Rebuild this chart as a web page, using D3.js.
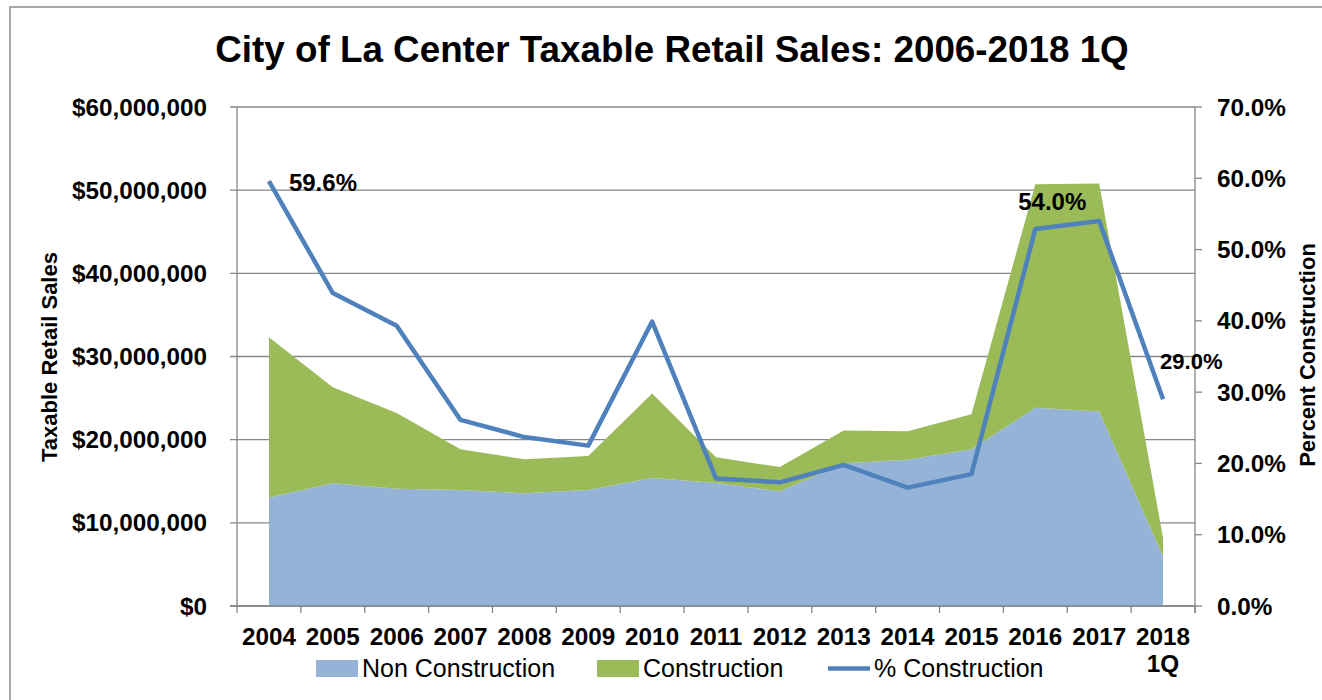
<!DOCTYPE html>
<html>
<head>
<meta charset="utf-8">
<script src="https://cdn.jsdelivr.net/npm/d3@7"></script>
<style>
  html, body { margin: 0; padding: 0; background: #fff; }
  svg { display: block; font-family: "Liberation Sans", Arial, sans-serif; }
</style>
</head>
<body>
<svg id="chart" width="1322" height="700"></svg>
<script>
// ---- data ----
const categories = ["2004","2005","2006","2007","2008","2009","2010","2011","2012","2013","2014","2015","2016","2017","2018\n1Q"];
const nonConstruction = [13.05e6, 14.75e6, 14.1e6, 13.95e6, 13.55e6, 13.95e6, 15.4e6, 14.8e6, 13.8e6, 17.15e6, 17.6e6, 18.85e6, 23.85e6, 23.4e6, 5.95e6];
const construction   = [19.25e6, 11.55e6, 9.1e6, 4.9e6, 4.1e6, 4.1e6, 10.15e6, 3.1e6, 2.9e6, 3.95e6, 3.4e6, 4.2e6, 26.85e6, 27.4e6, 2.2e6];
const pctConstruction = [0.596, 0.439, 0.393, 0.261, 0.237, 0.225, 0.399, 0.179, 0.1735, 0.198, 0.166, 0.185, 0.529, 0.540, 0.290];
const leftTicks = [0, 10e6, 20e6, 30e6, 40e6, 50e6, 60e6];
const rightTicks = [0, 0.1, 0.2, 0.3, 0.4, 0.5, 0.6, 0.7];
const dataLabels = [{i: 0, text: "59.6%"}, {i: 13, text: "54.0%"}, {i: 14, text: "29.0%"}];
const seriesNames = ["Non Construction", "Construction", "% Construction"];

// ---- layout ----
const svg = d3.select("#chart");
const L = 237, R = 1195, T = 107, B = 606;
const colNon = "#95B3D7", colCon = "#9BBB59", colLine = "#4F81BD", grid = "#868686";

const xBand = d3.scaleBand().domain(categories).range([L, R]);
const x = d3.scalePoint().domain(categories).range([L, R]).padding(0.5);
const yL = d3.scaleLinear().domain([0, 60e6]).range([B, T]);
const yR = d3.scaleLinear().domain([0, 0.7]).range([B, T]);

// outer border
svg.append("rect").attr("x", 10).attr("y", 7).attr("width", 1330).attr("height", 720)
  .attr("fill", "none").attr("stroke", "#8f8f8f").attr("stroke-width", 1.5);

// title
svg.append("text").attr("x", 672).attr("y", 62).attr("text-anchor", "middle")
  .attr("font-size", 36.8).attr("font-weight", "bold")
  .text("City of La Center Taxable Retail Sales: 2006-2018 1Q");

// gridlines (left axis)
svg.append("g").selectAll("line").data(leftTicks).join("line")
  .attr("x1", L - 7).attr("x2", R).attr("y1", d => yL(d)).attr("y2", d => yL(d))
  .attr("stroke", grid).attr("stroke-width", 1.3);

// stacked data
const rows = categories.map((c, i) => ({c, non: nonConstruction[i], con: construction[i]}));
const stack = d3.stack().keys(["non", "con"])(rows);
const area = d3.area().x(d => x(d.data.c)).y0(d => yL(d[0])).y1(d => yL(d[1]));
svg.append("path").datum(stack[0]).attr("d", area).attr("fill", colNon);
svg.append("path").datum(stack[1]).attr("d", area).attr("fill", colCon);

// axes lines
svg.append("line").attr("x1", L).attr("x2", L).attr("y1", T).attr("y2", B).attr("stroke", grid).attr("stroke-width", 1.3);
svg.append("line").attr("x1", R).attr("x2", R).attr("y1", T).attr("y2", B + 7).attr("stroke", grid).attr("stroke-width", 1.3);
svg.append("line").attr("x1", L - 7).attr("x2", R).attr("y1", B).attr("y2", B).attr("stroke", grid).attr("stroke-width", 1.5);
// right ticks
svg.append("g").selectAll("line").data(rightTicks).join("line")
  .attr("x1", R).attr("x2", R + 7).attr("y1", d => yR(d)).attr("y2", d => yR(d))
  .attr("stroke", grid).attr("stroke-width", 1.3);
// x tick marks at band boundaries
const bounds = categories.map(c => xBand(c)).concat([R]);
svg.append("g").selectAll("line").data(bounds).join("line")
  .attr("x1", d => d).attr("x2", d => d).attr("y1", B).attr("y2", B + 7)
  .attr("stroke", grid).attr("stroke-width", 1.3);

// left axis labels
const fmtL = d3.format("$,");
svg.append("g").selectAll("text").data(leftTicks).join("text")
  .attr("x", 207).attr("y", d => yL(d)).attr("dy", "0.35em").attr("text-anchor", "end")
  .attr("font-size", 24.3).attr("font-weight", "bold").text(d => fmtL(d));
// right axis labels
const fmtR = d3.format(".1%");
svg.append("g").selectAll("text").data(rightTicks).join("text")
  .attr("x", 1217).attr("y", d => yR(d)).attr("dy", "0.35em").attr("text-anchor", "start")
  .attr("font-size", 24.3).attr("font-weight", "bold").text(d => fmtR(d));

// x labels
const xl = svg.append("g").selectAll("text").data(categories).join("text")
  .attr("x", d => x(d)).attr("y", 645).attr("text-anchor", "middle")
  .attr("font-size", 24.3).attr("font-weight", "bold");
xl.each(function(d) {
  const parts = d.split("\n");
  const t = d3.select(this);
  parts.forEach((p, k) => t.append("tspan").attr("x", x(d)).attr("dy", k === 0 ? 0 : 27).text(p));
});

// axis titles
svg.append("text").attr("transform", "translate(57,357) rotate(-90)").attr("text-anchor", "middle")
  .attr("font-size", 22).attr("font-weight", "bold").text("Taxable Retail Sales");
svg.append("text").attr("transform", "translate(1315,355) rotate(-90)").attr("text-anchor", "middle")
  .attr("font-size", 22).attr("font-weight", "bold").text("Percent Construction");

// line
const line = d3.line().x((d, i) => x(categories[i])).y(d => yR(d));
svg.append("path").datum(pctConstruction).attr("d", line)
  .attr("fill", "none").attr("stroke", colLine).attr("stroke-width", 4.5).attr("stroke-linejoin", "round");

// data labels
const labelPos = {0: {dx: 20, y: 191, fs: 24, anchor: "start"}, 13: {dx: -81, y: 210, fs: 24, anchor: "start"}, 14: {dx: -3, y: 369, fs: 22, anchor: "start"}};
svg.append("g").selectAll("text").data(dataLabels).join("text")
  .attr("x", d => x(categories[d.i]) + labelPos[d.i].dx).attr("y", d => labelPos[d.i].y)
  .attr("text-anchor", d => labelPos[d.i].anchor)
  .attr("font-size", d => labelPos[d.i].fs).attr("font-weight", "bold").text(d => d.text);

// legend
const leg = svg.append("g");
const legItems = [
  {name: seriesNames[0], type: "rect", color: colNon, x: 316},
  {name: seriesNames[1], type: "rect", color: colCon, x: 597},
  {name: seriesNames[2], type: "line", color: colLine, x: 828}
];
legItems.forEach(it => {
  if (it.type === "rect") {
    leg.append("rect").attr("x", it.x).attr("y", 660).attr("width", 42).attr("height", 17).attr("fill", it.color);
  } else {
    leg.append("line").attr("x1", it.x).attr("x2", it.x + 42).attr("y1", 668.5).attr("y2", 668.5)
      .attr("stroke", it.color).attr("stroke-width", 4.5);
  }
  leg.append("text").attr("x", it.x + 46).attr("y", 677).attr("font-size", 25).text(it.name);
});
</script>
</body>
</html>
